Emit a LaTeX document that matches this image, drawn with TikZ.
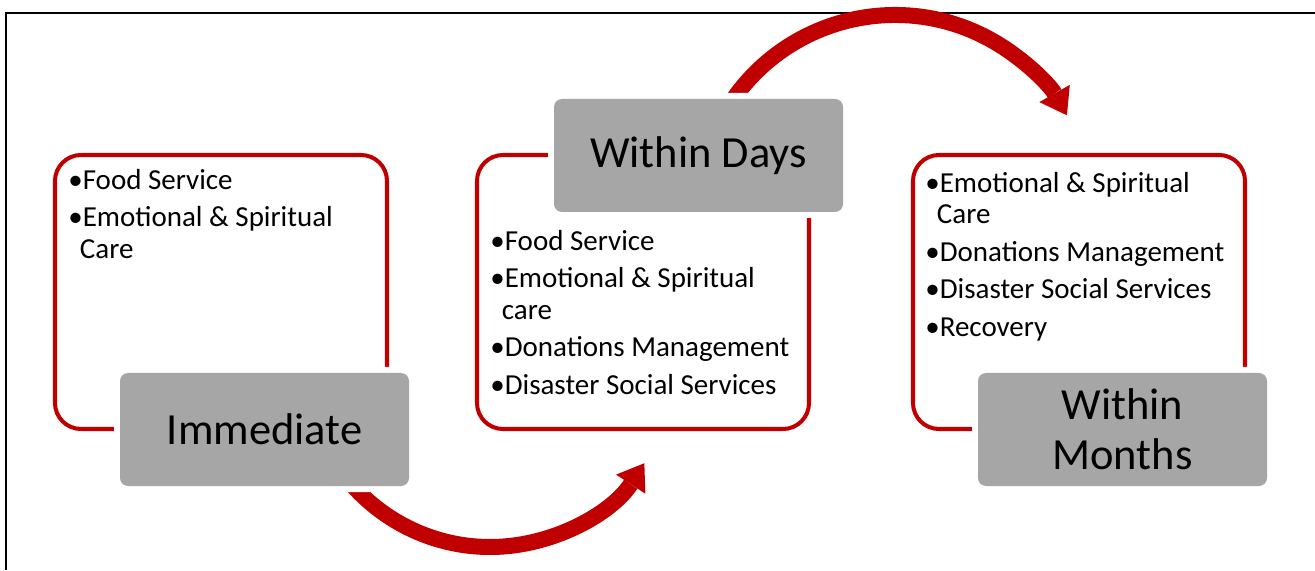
\documentclass[tikz,border=0pt]{standalone}
\usepackage{fontspec}
\setmainfont{Carlito}
\usetikzlibrary{arrows.meta}

\definecolor{phasered}{HTML}{C00000}
\definecolor{stagegray}{HTML}{A6A6A6}

\tikzset{
  phase/.style={draw=phasered, line width=2.3pt, rounded corners=0.52cm,
    minimum width=6.64cm, minimum height=5.48cm},
  stage/.style={fill=stagegray, rounded corners=0.16cm, align=center,
    minimum width=5.78cm, minimum height=2.26cm,
    font=\fontsize{25.3}{28.5}\selectfont,
    preaction={draw=white, line width=0.24cm}},
  items/.style={anchor=north west, inner sep=0pt, align=left,
    font=\fontsize{16.5}{17.9}\selectfont},
  flow/.style={draw=phasered, line width=0.32cm,
    -{Triangle[length=0.5cm, width=0.7cm, line width=0pt]}},
}
\newcommand{\wrapin}{\hspace*{0.40em}}

\begin{document}
\begin{tikzpicture}
  \useasboundingbox (0,0) rectangle (26.3,11.4);

  % frame
  \draw[line width=1.2pt] (0.12,0) -- (0.12,11.14) -- (26.3,11.14);

  % red outlines
  \node[phase] (nowbox)    at (4.42,5.56)  {};
  \node[phase] (daysbox)   at (12.86,5.56) {};
  \node[phase] (monthsbox) at (21.58,5.56) {};

  % bullet lists
  \node[items] (nowitems) at (1.36,8.02)
    {•Food Service\\[3.4pt]
     •Emotional \& Spiritual\\
     \wrapin Care};
  \node[items] (daysitems) at (9.80,6.80)
    {•Food Service\\[3.4pt]
     •Emotional \& Spiritual\\
     \wrapin care\\[3.4pt]
     •Donations Management\\[3.4pt]
     •Disaster Social Services};
  \node[items] (monthsitems) at (18.50,7.96)
    {•Emotional \& Spiritual\\
     \wrapin Care\\[3.4pt]
     •Donations Management\\[3.4pt]
     •Disaster Social Services\\[3.4pt]
     •Recovery};

  % curved arrows between stages
  \coordinate (lowturn) at (9.80,4.14);
  \coordinate (highturn) at (17.90,7.15);
  \draw[flow] ([shift={(215:3.68)}]lowturn) arc[start angle=215, end angle=327, radius=3.68];
  \draw[flow] ([shift={(150:3.95)}]highturn) arc[start angle=150, end angle=29.5, radius=3.95];

  % grey stage labels
  \node[stage] (now)    at (5.29,2.81)  {Immediate};
  \node[stage] (days)   at (13.97,8.29) {Within Days};
  \node[stage] (months) at (22.45,2.81) {Within\\Months};
\end{tikzpicture}
\end{document}
